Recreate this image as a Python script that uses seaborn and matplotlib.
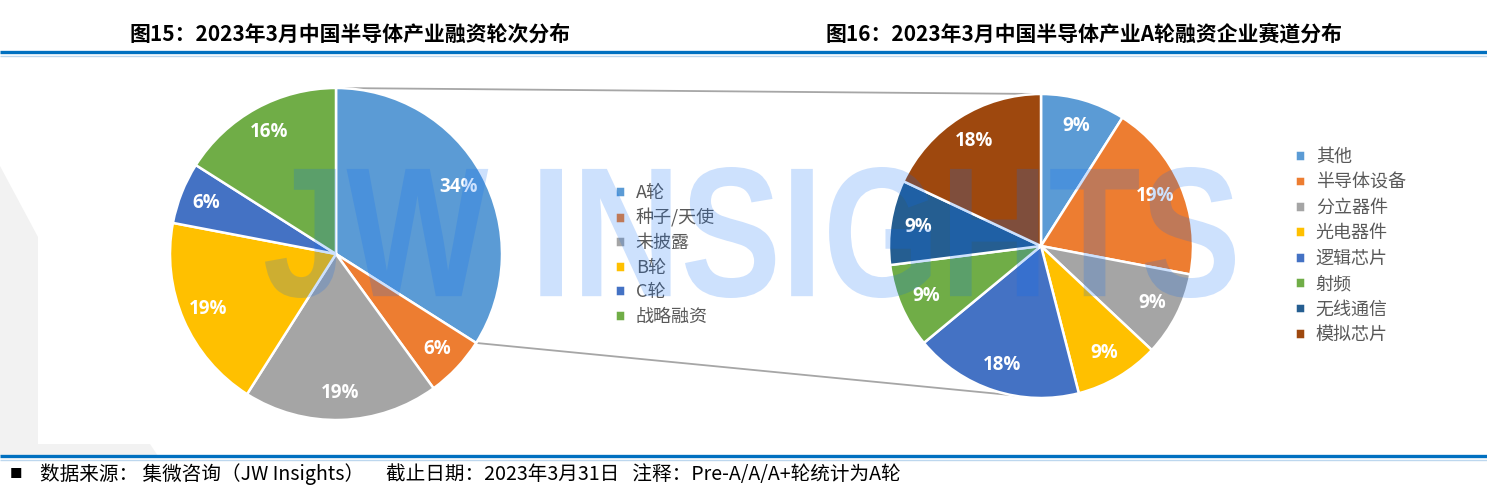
import numpy as np
import matplotlib
matplotlib.use("Agg")
import matplotlib.pyplot as plt
import seaborn as sns
from matplotlib.patches import ConnectionPatch, Polygon, PathPatch
from matplotlib.textpath import TextPath
from matplotlib.font_manager import FontProperties
from matplotlib.transforms import Affine2D

sns.set_theme(style="white")
plt.rcParams['font.family'] = ['Noto Sans CJK SC', 'DejaVu Sans']

# ---------------------------------------------------------
# Data
# ---------------------------------------------------------
round_labels = ['A轮', '种子/天使', '未披露', 'B轮', 'C轮', '战略融资']
round_share = [34, 6, 19, 19, 6, 16]

track_labels = ['其他', '半导体设备', '分立器件', '光电器件', '逻辑芯片', '射频', '无线通信', '模拟芯片']
track_share = [9, 19, 9, 9, 18, 9, 9, 18]

title_left = '图15：2023年3月中国半导体产业融资轮次分布'
title_right = '图16：2023年3月中国半导体产业A轮融资企业赛道分布'
footer_text = '数据来源： 集微咨询（JW Insights）     截止日期：2023年3月31日   注释：Pre-A/A/A+轮统计为A轮'
watermark = 'JW INSIGHTS'

office = sns.color_palette(['#5B9BD5', '#ED7D31', '#A5A5A5', '#FFC000',
                            '#4472C4', '#70AD47', '#255E91', '#9E480E'])

W, H = 1487, 488
fig = plt.figure(figsize=(W / 100, H / 100), dpi=100)
fig.patch.set_facecolor('white')

# background layer in pixel coordinates
bg = fig.add_axes([0, 0, 1, 1])
bg.set_xlim(0, W)
bg.set_ylim(H, 0)
bg.axis('off')
bg.set_zorder(0)

bg.add_patch(Polygon([(0, 166), (38, 237), (38, 444), (150, 444), (158, 456), (0, 456)],
                     closed=True, facecolor='#F2F2F2', edgecolor='none'))
for y in (52, 456):
    bg.plot([0, W], [y, y], color='#0070C0', lw=2.4, solid_capstyle='butt')
    bg.plot([0, W], [y + 3.5, y + 3.5], color='#BDD7EE', lw=1.0, solid_capstyle='butt')

bg.text(350, 34, title_left, ha='center', va='center', fontsize=15, fontweight='bold', color='black')
bg.text(1084, 34, title_right, ha='center', va='center', fontsize=15, fontweight='bold', color='black')
bg.text(16, 474, '■', ha='center', va='center', fontsize=9, color='black')
bg.text(40, 474, footer_text, ha='left', va='center', fontsize=14.1, style='italic', color='black')


def pie_axes(cx, cy, r):
    ax = fig.add_axes([(cx - r) / W, (H - cy - r) / H, 2 * r / W, 2 * r / H])
    ax.set_zorder(1)
    return ax


label_props = dict(color='white', fontsize=13.5, fontweight='bold', family=['Open Sans', 'DejaVu Sans'])
edge_props = dict(edgecolor='white', linewidth=1.8)

ax1 = pie_axes(336, 254, 166)
wedges1, _, pct1 = ax1.pie(round_share, colors=office[:len(round_share)], startangle=90,
                           counterclock=False, autopct='%.0f%%', pctdistance=0.84,
                           wedgeprops=edge_props, textprops=label_props)
ax1.set_xlim(-1, 1)
ax1.set_ylim(-1, 1)
ax1.set_aspect('equal')

ax2 = pie_axes(1041, 246, 152)
wedges2, _, pct2 = ax2.pie(track_share, colors=office[:len(track_share)], startangle=90,
                           counterclock=False, autopct='%.0f%%', pctdistance=0.82,
                           wedgeprops=edge_props, textprops=label_props)
ax2.set_xlim(-1, 1)
ax2.set_ylim(-1, 1)
ax2.set_aspect('equal')

# connector lines from the A-round slice to the breakdown pie
theta = np.deg2rad(wedges1[0].theta1)
for xa, xb in [((0, 1), (0, 1)), ((np.cos(theta), np.sin(theta)), (0, -1))]:
    con = ConnectionPatch(xyA=xa, coordsA=ax1.transData, xyB=xb, coordsB=ax2.transData,
                          color='#A6A6A6', lw=1.3)
    fig.add_artist(con)

leg_kw = dict(loc='upper left', frameon=False, fontsize=13, labelcolor='#595959',
              handlelength=0.55, handleheight=0.55, handletextpad=0.6,
              borderpad=0, borderaxespad=0)
fig.legend(wedges1, round_labels, bbox_to_anchor=(615 / W, 1 - 184 / H), labelspacing=0.36, **leg_kw)
fig.legend(wedges2, track_labels, bbox_to_anchor=(1295 / W, 1 - 148 / H), labelspacing=0.41, **leg_kw)

# watermark on top
ov = fig.add_axes([0, 0, 1, 1])
ov.set_xlim(0, W)
ov.set_ylim(H, 0)
ov.axis('off')
ov.set_zorder(10)
ov.patch.set_alpha(0)

tp = TextPath((0, 0), watermark, size=100, prop=FontProperties(family='Liberation Sans', weight='bold'))
ext = tp.get_extents()
x0, x1, y0, y1 = 265, 1235, 167, 298
tr = (Affine2D().translate(-ext.x0, -ext.y0)
      .scale((x1 - x0) / ext.width, -(y1 - y0) / ext.height)
      .translate(x0, y1))
ov.add_patch(PathPatch(tr.transform_path(tp), facecolor='#076AF7', edgecolor='none', alpha=0.2))

fig.savefig('out.png', dpi=100, facecolor='white')
